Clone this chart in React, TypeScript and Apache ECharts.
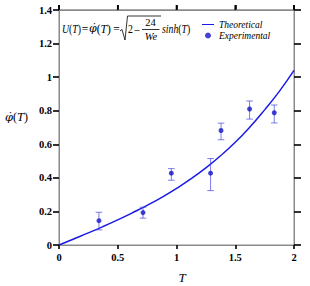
import React, { useEffect, useRef } from "react";
import * as echarts from "echarts";

const curveT = [0, 0.125, 0.25, 0.375, 0.5, 0.625, 0.75, 0.875, 1, 1.125, 1.25, 1.375, 1.5, 1.625, 1.75, 1.875, 2];
const curveValues = [0, 0.036, 0.072, 0.11, 0.15, 0.192, 0.236, 0.284, 0.337, 0.395, 0.46, 0.532, 0.612, 0.703, 0.805, 0.915, 1.04];

const expT = [0.34, 0.715, 0.956, 1.29, 1.379, 1.622, 1.832];
const expValues = [0.145, 0.193, 0.428, 0.428, 0.682, 0.81, 0.788];
const expUpper = [0.195, 0.225, 0.455, 0.515, 0.726, 0.858, 0.834];
const expLower = [0.09, 0.16, 0.386, 0.324, 0.627, 0.75, 0.727];

const xMin = 0, xMax = 2, xStep = 0.5;
const yMin = 0, yMax = 1.4, yStep = 0.2;
const xTicks = [0, 0.5, 1, 1.5, 2];

const SERIF = "Liberation Serif";
const PHI_FONT = "DejaVu Serif";

export default function App() {
  const ref = useRef<HTMLDivElement>(null);
  useEffect(() => {
    if (!ref.current) return;
    const chart = echarts.init(ref.current, null, { renderer: "svg" });
    const tickStyle = () => ({ color: "#000", width: 1.6 });
    const axisLine = () => ({ show: true, onZero: false, lineStyle: { color: "#8a8a8a", width: 1 } });
    const labelStyle = () => ({ color: "#000", fontFamily: SERIF, fontWeight: "bold" as const, fontSize: 10.5, margin: 7 });
    const mainY = 28.5;
    const txt = (x: number, y: number, text: string, opts: any = {}) => {
      const size = opts.size || 11.5;
      return {
        type: "text", x, y, scaleX: opts.sx ?? 0.85,
        style: {
          text, verticalAlign: "middle", fill: "#000",
          font: `${opts.italic ? "italic " : ""}${size}px ${SERIF}`,
          align: opts.align || "left",
          rich: {
            i: { fontStyle: "italic", fontFamily: SERIF, fontSize: size },
            p: { fontStyle: "italic", fontFamily: PHI_FONT, fontSize: size - 0.5 },
          },
        },
      };
    };
    chart.setOption({
      animation: false,
      backgroundColor: "#fff",
      grid: { left: 59, right: 16, top: 10, bottom: 41, outerBoundsMode: "none", show: true, borderColor: "#8a8a8a", borderWidth: 1 },
      legend: {
        orient: "vertical",
        left: 202,
        top: 19.5,
        padding: 0,
        itemWidth: 12,
        itemHeight: 6,
        itemGap: 1,
        textStyle: { fontFamily: SERIF, fontStyle: "italic", fontSize: 9.5, color: "#000" },
        data: [
          { name: "Theoretical", icon: "path://M0,0L0.01,0M0,2.6H12V3.6H0ZM0,6L0.01,6" },
          { name: "Experimental", icon: "circle" },
        ],
      },
      xAxis: [
        {
          type: "value", min: xMin, max: xMax, interval: xStep, position: "bottom",
          axisLine: axisLine(), splitLine: { show: false },
          axisTick: { show: true, length: 4, lineStyle: tickStyle() },
          axisLabel: labelStyle(),
          name: "T", nameLocation: "middle", nameGap: 26,
          nameTextStyle: { fontFamily: SERIF, fontStyle: "italic", fontSize: 13, color: "#000", padding: [0, 0, 0, 11] },
        },
        {
          type: "value", min: xMin, max: xMax, interval: xStep, position: "top",
          axisLine: axisLine(), splitLine: { show: false },
          axisTick: { show: true, length: 5, lineStyle: tickStyle() },
          axisLabel: { show: true, formatter: () => "" },
        },
      ],
      yAxis: [
        {
          type: "value", min: yMin, max: yMax, interval: yStep, position: "left",
          axisLine: axisLine(), splitLine: { show: false },
          axisTick: { show: true, length: 6, lineStyle: tickStyle() },
          axisLabel: labelStyle(),
          name: "{p|φ\u0307}({i|T})", nameLocation: "middle", nameRotate: 0, nameGap: 31,
          nameTextStyle: {
            fontFamily: SERIF, fontSize: 12, color: "#000", padding: [0, 0, 22, 0],
            rich: {
              p: { fontFamily: PHI_FONT, fontStyle: "italic", fontSize: 11.5, color: "#000" },
              i: { fontFamily: SERIF, fontStyle: "italic", fontSize: 12.5, color: "#000" },
            },
          },
        },
        {
          type: "value", min: yMin, max: yMax, interval: yStep, position: "right",
          axisLine: axisLine(), splitLine: { show: false },
          axisTick: { show: true, length: 7, lineStyle: tickStyle() },
          axisLabel: { show: true, formatter: () => "" },
        },
      ],
      graphic: [
        txt(62, mainY, "{i|U}({i|T})"),
        txt(85, mainY, "=", { align: "center", sx: 1 }),
        txt(89, mainY, "{p|φ\u0307}({i|T})", { sx: 1 }),
        txt(116.5, mainY, "=", { align: "center", sx: 1 }),
        {
          type: "polyline",
          shape: { points: [[120, 31], [122, 29.5], [125, 40], [127.5, 16], [161, 16]] },
          style: { stroke: "#000", lineWidth: 0.8, fill: "none" },
        },
        txt(128, mainY, "2"),
        txt(134.5, mainY, "–"),
        txt(150.5, 22, "24", { align: "center", size: 10.5, sx: 1 }),
        { type: "line", shape: { x1: 142, y1: 29.5, x2: 159.5, y2: 29.5 }, style: { stroke: "#000", lineWidth: 0.8 } },
        txt(151, 36, "We", { align: "center", size: 10.5, italic: true, sx: 1 }),
        txt(162, mainY, "{i|sinh}({i|T})"),
      ],
      series: [
        {
          name: "Theoretical", type: "line", smooth: true, symbol: "none",
          data: curveT.map((t, i) => [t, curveValues[i]]),
          lineStyle: { color: "#1a1ae6", width: 1.5 },
          itemStyle: { color: "#1a1ae6" },
          z: 3,
        },
        {
          name: "errorbars", type: "custom",
          data: expT.map((t, i) => [t, expLower[i], expUpper[i]]),
          renderItem: (params: any, api: any) => {
            const x = api.value(0);
            const lo = api.coord([x, api.value(1)]);
            const hi = api.coord([x, api.value(2)]);
            const cap = 3.3;
            const st = { stroke: "rgba(70,70,225,0.7)", lineWidth: 1 };
            return {
              type: "group",
              children: [
                { type: "line", shape: { x1: lo[0], y1: lo[1], x2: hi[0], y2: hi[1] }, style: st },
                { type: "line", shape: { x1: lo[0] - cap, y1: lo[1], x2: lo[0] + cap, y2: lo[1] }, style: st },
                { type: "line", shape: { x1: hi[0] - cap, y1: hi[1], x2: hi[0] + cap, y2: hi[1] }, style: st },
              ],
            };
          },
          z: 4,
        },
        {
          name: "Experimental", type: "scatter", symbol: "circle", symbolSize: 5,
          data: expT.map((t, i) => [t, expValues[i]]),
          itemStyle: { color: "#1414c8" },
          z: 5,
        },
        {
          name: "topFrame", type: "custom", clip: false, silent: true, z: 10,
          data: xTicks.map((t) => [t, yMax]),
          renderItem: (params: any, api: any) => {
            const p = api.coord([api.value(0), api.value(1)]);
            const children: any[] = [
              { type: "line", shape: { x1: p[0], y1: p[1] - 5, x2: p[0], y2: p[1] }, style: { stroke: "#000", lineWidth: 1.6 } },
            ];
            if (params.dataIndex === 0) {
              const a = api.coord([xMin, yMax]);
              const b = api.coord([xMax, yMax]);
              children.unshift({ type: "line", shape: { x1: a[0], y1: a[1], x2: b[0], y2: b[1] }, style: { stroke: "#8a8a8a", lineWidth: 1 } });
            }
            return { type: "group", children };
          },
        },
        {
          name: "frame", type: "line", xAxisIndex: 1, yAxisIndex: 1, data: [], silent: true, symbol: "none",
        },
      ],
    });
    return () => chart.dispose();
  }, []);
  return <div ref={ref} style={{ width: 310, height: 286, position: "absolute", left: 0, top: 0 }} />;
}
